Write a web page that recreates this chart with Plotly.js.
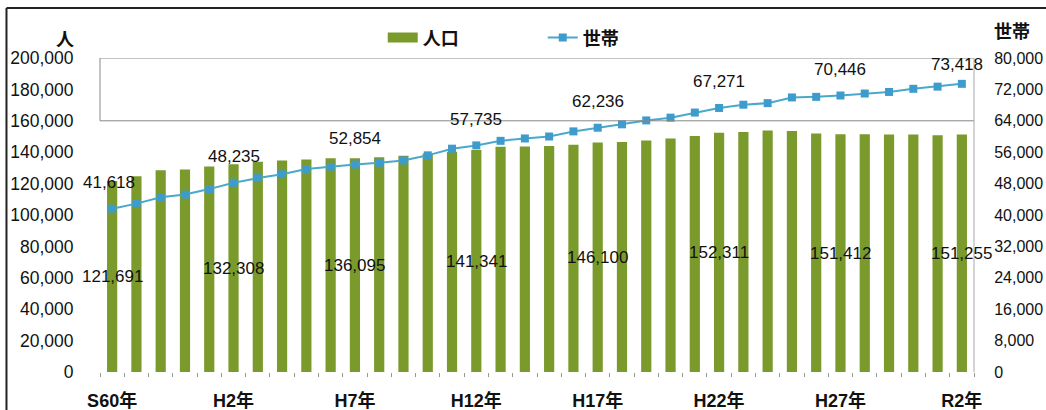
<!DOCTYPE html>
<html>
<head>
<meta charset="utf-8">
<script src="https://cdn.plot.ly/plotly-3.0.1.min.js"></script>
<style>
html,body{margin:0;padding:0;background:#fff;}
#chart{width:1046px;height:410px;}
</style>
</head>
<body>
<div id="chart"></div>
<script>
const categories = ['S60年','S61年','S62年','S63年','H1年','H2年','H3年','H4年','H5年','H6年',
  'H7年','H8年','H9年','H10年','H11年','H12年','H13年','H14年','H15年','H16年',
  'H17年','H18年','H19年','H20年','H21年','H22年','H23年','H24年','H25年','H26年',
  'H27年','H28年','H29年','H30年','R1年','R2年'];
const population = [121691,124700,128500,129000,130900,132308,133900,134700,135400,136100,
  136095,136800,137800,139200,140300,141341,143400,143700,143900,144800,
  146100,146500,147400,148800,150300,152311,152900,153800,153500,151900,
  151412,151400,151200,151200,150850,151255];
const households = [41618,42900,44500,45200,46600,48235,49400,50400,51700,52300,
  52854,53300,53900,55200,56900,57735,58900,59500,60000,61300,
  62236,63100,64100,64800,66100,67271,68100,68500,69950,70100,
  70446,70950,71350,72150,72700,73418];
const labelIdx = [0,5,10,15,20,25,30,35];
const seriesNames = ['人口','世帯'];
const leftUnit = '人';
const rightUnit = '世帯';

const FONT = 'Liberation Sans, Arial, Noto Sans CJK JP, sans-serif';
const GREEN = '#7a9a2c';
const BLUE = '#4aa8cc';
const xs = categories.map((_, i) => i);
const fmt = v => v.toLocaleString('en-US');

const traces = [
  {type:'bar', x: xs, y: population, name: seriesNames[0], marker:{color: GREEN},
   width: 0.42, showlegend:false, hoverinfo:'skip'},
  {type:'scatter', mode:'lines', x:[null], y:[null], name: seriesNames[0],
   line:{color: GREEN, width: 10}, showlegend:true, hoverinfo:'skip'},
  {type:'scatter', mode:'lines+markers', x: xs, y: households, yaxis:'y2', name: seriesNames[1],
   line:{color: BLUE, width: 2}, marker:{symbol:'square', size:8, color:'#3d9ccb'}, hoverinfo:'skip'}
];

const annotations = [];
labelIdx.forEach((i, k) => {
  annotations.push({x: xs[i], y: population[i]/2, xref:'x', yref:'y', text: fmt(population[i]),
    showarrow:false, font:{family: FONT, size:17, color:'#111'}});
  annotations.push({x: xs[i], y: households[i], xref:'x', yref:'y2', text: fmt(households[i]),
    showarrow:false, yshift: k === labelIdx.length-1 ? 19 : 26, xshift: k === labelIdx.length-1 ? -5 : (k===0?-3:0),
    font:{family: FONT, size:17, color:'#111'}});
});
annotations.push({xref:'paper', yref:'paper', x:-0.04, y:1.057, xanchor:'center', yanchor:'middle',
  text: leftUnit, showarrow:false, font:{family: FONT, size:18, color:'#111', weight:'bold'}});
annotations.push({xref:'paper', yref:'paper', x:1.0435, y:1.083, xanchor:'center', yanchor:'middle',
  text: rightUnit, showarrow:false, font:{family: FONT, size:18, color:'#111', weight:'bold'}});

const shapes = [
  {type:'line', xref:'paper', yref:'y', x0:0, x1:1, y0:200000, y1:200000, line:{color:'#888', width:1}},
  {type:'line', xref:'paper', yref:'y', x0:0, x1:1, y0:160000, y1:160000, line:{color:'#888', width:1}},
  {type:'line', xref:'paper', yref:'y', x0:0, x1:0, y0:160000, y1:200000, line:{color:'#888', width:1}},
  {type:'line', xref:'paper', yref:'y', x0:1, x1:1, y0:0, y1:200000, line:{color:'#aaa', width:1}},
  {type:'line', xref:'paper', yref:'paper', x0:-0.107, x1:1.09, y0:1.159, y1:1.159, line:{color:'#222', width:2}},
  {type:'line', xref:'paper', yref:'paper', x0:-0.107, x1:-0.107, y0:-0.2, y1:1.159, line:{color:'#222', width:2}}
];

const layout = {
  width:1046, height:410,
  margin:{l:100, r:72, t:58, b:38, autoexpand:false},
  paper_bgcolor:'#fff', plot_bgcolor:'#fff',
  font:{family: FONT, size:17, color:'#111'},
  showlegend:true,
  legend:{orientation:'h', x:0.3235, y:1.064, xanchor:'left', yanchor:'middle',
    font:{family: FONT, size:18, color:'#111', weight:'bold'}, bgcolor:'rgba(0,0,0,0)', entrywidth:115, traceorder:'normal'},
  xaxis:{range:[-0.5, 35.5], tickmode:'array', tickvals: labelIdx, ticktext: labelIdx.map(i => categories[i]),
    ticks:'outside', ticklen:12, tickcolor:'rgba(0,0,0,0)', showgrid:false, zeroline:false, showline:false,
    tickfont:{family: FONT, size:18, color:'#111', weight:'bold'},
    minor:{tickmode:'linear', tick0:0.5, dtick:1, ticks:'outside', ticklen:4, tickcolor:'#999', showgrid:false}},
  yaxis:{range:[0,200000], dtick:20000, tickformat:',d', showgrid:false, zeroline:false, showline:false,
    ticks:'outside', ticklen:22, tickcolor:'rgba(0,0,0,0)', tickfont:{family: FONT, size:17.5, color:'#111'}},
  yaxis2:{range:[0,80000], dtick:8000, tickformat:',d', overlaying:'y', side:'right', showgrid:false, zeroline:false,
    showline:false, ticks:'outside', ticklen:16, tickcolor:'rgba(0,0,0,0)', tickfont:{family: FONT, size:16, color:'#111'}},
  bargap:0.58,
  annotations: annotations,
  shapes: shapes
};

Plotly.newPlot('chart', traces, layout, {displayModeBar:false, staticPlot:true});
</script>
</body>
</html>
